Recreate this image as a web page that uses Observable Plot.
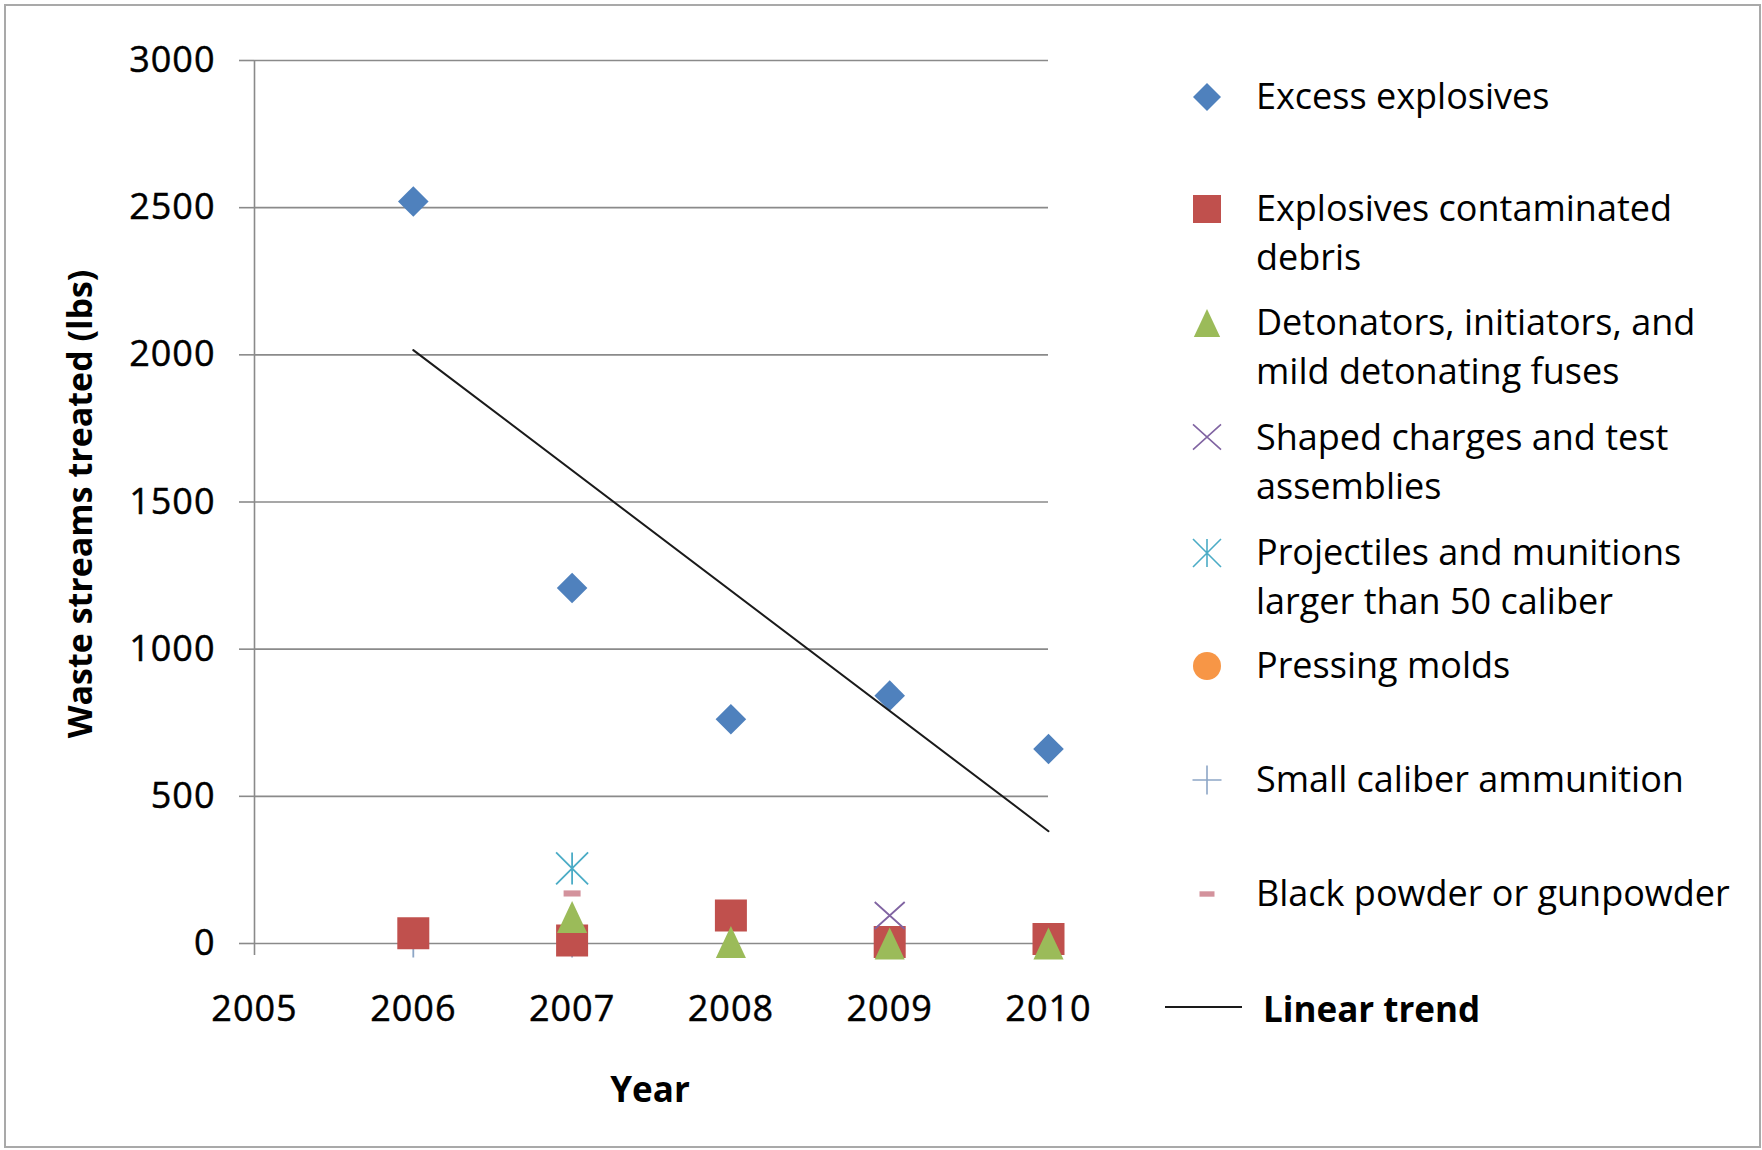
<!DOCTYPE html>
<html><head><meta charset="utf-8">
<script src="https://cdn.jsdelivr.net/npm/d3@7"></script>
<script src="https://cdn.jsdelivr.net/npm/@observablehq/plot@0.6"></script>
<style>
html,body{margin:0;padding:0;background:#fff;}
#wrap{position:relative;width:1762px;height:1150px;overflow:hidden;background:#fff;font-family:'Open Sans',sans-serif;color:#000;}
#wrap > svg{position:absolute;left:0;top:0;}
#wrap g[aria-label$="tick label"]{stroke:#000;stroke-width:0.45px;letter-spacing:1px;}
#border{position:absolute;left:4px;top:4px;width:1757px;height:1144px;box-sizing:border-box;border:2px solid #a9a9a9;pointer-events:none;}
.lab{position:absolute;white-space:nowrap;line-height:1;}
.leg{position:absolute;left:1256px;font-size:36px;line-height:49px;white-space:nowrap;}
.mk{position:absolute;overflow:visible;}
</style></head><body><div id="wrap"></div>
<script>
// ---- data ----
const years = [2006, 2007, 2008, 2009, 2010];
const excessExplosives   = [2521, 1208, 762, 842, 661];
const contaminatedDebris = [35, 10, 95, 5, 15];
const detonators         = [null, 90, 5, 0, 0];
const shapedCharges      = [null, null, null, 95, null];
const projectiles        = [null, 255, null, null, null];
const pressingMolds      = [null, null, null, null, null];
const smallCaliber       = [0, 0, null, null, null];
const blackPowder        = [null, 170, null, null, null];
const seriesLabels = [
  ["Excess explosives"],
  ["Explosives contaminated", "debris"],
  ["Detonators, initiators, and", "mild detonating fuses"],
  ["Shaped charges and test", "assemblies"],
  ["Projectiles and munitions", "larger than 50 caliber"],
  ["Pressing molds"],
  ["Small caliber ammunition"],
  ["Black powder or gunpowder"]
];
const xTicks = [2005, 2006, 2007, 2008, 2009, 2010];
const yTicks = [0, 500, 1000, 1500, 2000, 2500, 3000];
const xLabel = "Year";
const yLabel = "Waste streams treated (lbs)";
const trendLabel = "Linear trend";

// ---- marker shapes (r = half extent) ----
const R = s => Math.sqrt(s / Math.PI);
const symDiamond = {draw(c, s){const r=R(s); c.moveTo(0,-r); c.lineTo(r,0); c.lineTo(0,r); c.lineTo(-r,0); c.closePath();}};
const symSquare  = {draw(c, s){const r=R(s); c.rect(-r,-r,2*r,2*r);}};
const symTriangle= {draw(c, s){const r=R(s), w=r*0.94; c.moveTo(0,-r); c.lineTo(w,r); c.lineTo(-w,r); c.closePath();}};
const symTimes   = {draw(c, s){const r=R(s), h=r*0.9; c.moveTo(-r,-h); c.lineTo(r,h); c.moveTo(-r,h); c.lineTo(r,-h);}};
const symStar    = {draw(c, s){const r=R(s); c.moveTo(0,-r); c.lineTo(0,r); c.moveTo(-r,-r); c.lineTo(r,r); c.moveTo(-r,r); c.lineTo(r,-r);}};
const symCircle  = {draw(c, s){const r=R(s); c.moveTo(r,0); c.arc(0,0,r,0,2*Math.PI);}};
const symPlus    = {draw(c, s){const r=R(s); c.moveTo(0,-r); c.lineTo(0,r); c.moveTo(-r,0); c.lineTo(r,0);}};
const symDash    = {draw(c, s){const r=R(s), h=r*0.36; c.rect(-r,-h,2*r,2*h);}};

const styles = [
  {sym: symDiamond,  color: "#4F81BD", filled: true,  r: 15.3, lr: 14},
  {sym: symSquare,   color: "#C0504D", filled: true,  r: 16,   lr: 14},
  {sym: symTriangle, color: "#9BBB59", filled: true,  r: 16,   lr: 14},
  {sym: symTimes,    color: "#8064A2", filled: false, r: 15,   lr: 14},
  {sym: symStar,     color: "#4BACC6", filled: false, r: 16,   lr: 14},
  {sym: symCircle,   color: "#F79646", filled: true,  r: 14,   lr: 14},
  {sym: symPlus,     color: "#8DA6C6", filled: false, r: 14,   lr: 14.5},
  {sym: symDash,     color: "#D3929C", filled: true,  r: 8.5,  lr: 7.5}
];
const seriesValues = [excessExplosives, contaminatedDebris, detonators, shapedCharges,
                      projectiles, pressingMolds, smallCaliber, blackPowder];

function rowsOf(values){ return years.map((year, i) => ({year, value: values[i]})).filter(d => d.value != null); }
function dotMark(k){
  const st = styles[k];
  return Plot.dot(rowsOf(seriesValues[k]), {
    x: "year", y: "value", r: st.r, symbol: st.sym,
    fill: st.filled ? st.color : "none",
    stroke: st.filled ? "none" : st.color,
    strokeWidth: st.filled ? 0 : 1.8
  });
}

const grid = "#8a8a8a";
const chart = Plot.plot({
  width: 1762, height: 1150,
  marginLeft: 254, marginRight: 714, marginTop: 60, marginBottom: 207,
  x: {domain: [2005, 2010]},
  y: {domain: [0, 3000]},
  style: {fontFamily: "'Open Sans', sans-serif", color: "#000", background: "transparent", overflow: "visible"},
  marks: [
    Plot.ruleY(yTicks, {stroke: grid, strokeWidth: 1.6}),
    Plot.ruleX([xTicks[0]], {stroke: grid, strokeWidth: 1.6, insetBottom: -12}),
    Plot.axisY({ticks: yTicks, tickFormat: "d", tickSize: 15, tickPadding: 24, stroke: grid, strokeWidth: 1.6, fontSize: 36, label: null}),
    Plot.axisX({ticks: xTicks, tickFormat: "d", tickSize: 0, tickPadding: 52, fontSize: 36, label: null}),
    dotMark(6), // small caliber (hidden beneath squares)
    dotMark(0),
    dotMark(1),
    dotMark(2),
    dotMark(3),
    dotMark(4),
    dotMark(5),
    dotMark(7),
    Plot.linearRegressionY(rowsOf(excessExplosives), {x: "year", y: "value", ci: 0, stroke: "#1a1a1a", strokeWidth: 2})
  ]
});
const wrap = document.getElementById("wrap");
wrap.appendChild(chart);

function addLabel(text, css){
  const d = document.createElement("div");
  d.className = "lab"; d.textContent = text; d.style.cssText += css;
  wrap.appendChild(d); return d;
}
addLabel(yLabel, "left:79px;top:504px;transform:translate(-50%,-50%) rotate(-90deg);font-weight:700;font-size:34px;");
addLabel(xLabel, "left:650px;top:1088px;transform:translate(-50%,-50%);font-weight:700;font-size:35px;");

// legend
const legendY = [96.7, 208.5, 322.5, 437, 552.5, 665.5, 779.5, 893.5];
seriesLabels.forEach((lines, k) => {
  const st = styles[k];
  const cy = legendY[k];
  const svg = d3.create("svg").attr("class", "mk").attr("width", 40).attr("height", 40)
    .style("left", (1207 - 20) + "px").style("top", (cy - 20) + "px");
  svg.append("path")
    .attr("transform", "translate(20,20)")
    .attr("d", d3.symbol(st.sym, Math.PI * st.lr * st.lr)())
    .attr("fill", st.filled ? st.color : "none")
    .attr("stroke", st.filled ? "none" : st.color)
    .attr("stroke-width", st.filled ? 0 : 1.6);
  wrap.appendChild(svg.node());
  const d = document.createElement("div");
  d.className = "leg";
  d.style.top = (cy - 25.5) + "px";
  d.innerHTML = lines.map(t => t.replace(/&/g,"&amp;").replace(/</g,"&lt;")).join("<br>");
  wrap.appendChild(d);
});
// trend legend
const tl = d3.create("svg").attr("class", "mk").attr("width", 90).attr("height", 20)
  .style("left", "1160px").style("top", (1007 - 10) + "px");
tl.append("line").attr("x1", 5).attr("x2", 82).attr("y1", 10).attr("y2", 10)
  .attr("stroke", "#1a1a1a").attr("stroke-width", 2);
wrap.appendChild(tl.node());
addLabel(trendLabel, "left:1263px;top:1008px;transform:translate(0,-50%);font-weight:700;font-size:35px;");

const b = document.createElement("div"); b.id = "border"; wrap.appendChild(b);
</script>
</body></html>
